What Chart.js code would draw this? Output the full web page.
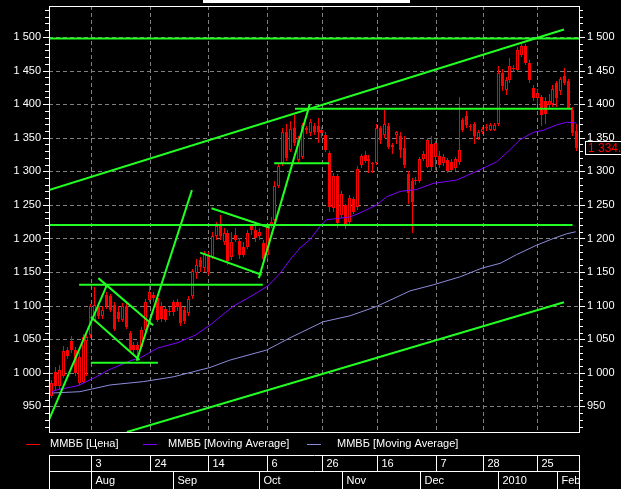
<!DOCTYPE html>
<html>
<head>
<meta charset="utf-8">
<script src="https://cdn.jsdelivr.net/npm/chart.js@4/dist/chart.umd.min.js"></script>
<style>
  html, body { margin: 0; padding: 0; background: #000; }
  canvas { display: block; }
</style>
</head>
<body>
<canvas id="canvas1" width="621" height="489"></canvas>
<script>
// candles, one per trading day (index 0 = 20 Jul 2009)
var opens  = [965,1002,980,995,1034,1047,1034,985,987,1047, 1057,1079,1099,1084,1116,1114,1101,1090,1079,1099, 1059,1042,1042,1039,1064,1109,1116,1111,1100,1095, 1092,1105,1105,1099,1094,1089,1114,1148,1168,1156, 1175,1173,1203,1222,1195,1208,1172,1205,1196,1188, 1188,1218,1213,1204,1194,1175,1220,1228,1278,1312, 1358,1332,1364,1317,1322,1365,1357,1367,1367,1362, 1354,1327,1246,1293,1235,1250,1225,1259,1247,1309, 1324,1318,1313,1313,1364,1354,1367,1339,1354,1353, 1334,1296,1286,1287,1286,1319,1307,1341,1322,1323, 1312,1317,1314,1305,1314,1376,1382,1366,1370,1350, 1358,1364,1362,1362,1371,1447,1421,1436,1452,1451, 1473,1487,1461,1424,1409,1411,1405,1398,1400,1431, 1419,1442,1434,1391,1360];
var highs  = [990,1008,1012,1040,1038,1055,1038,1030,1058,1059, 1102,1128,1104,1100,1120,1118,1106,1100,1104,1104, 1062,1046,1046,1068,1110,1130,1120,1114,1106,1100, 1098,1108,1110,1105,1098,1115,1155,1170,1172,1182, 1180,1210,1225,1235,1215,1212,1210,1215,1200,1195, 1212,1222,1218,1215,1198,1222,1232,1285,1312,1365, 1370,1375,1384,1352,1372,1368,1378,1372,1379,1366, 1358,1330,1298,1296,1270,1252,1264,1262,1308,1326, 1330,1324,1314,1370,1368,1391,1372,1342,1360,1358, 1352,1300,1290,1292,1322,1330,1350,1352,1345,1330, 1325,1320,1318,1322,1411,1380,1390,1370,1374,1362, 1366,1370,1372,1372,1456,1452,1440,1468,1458,1485, 1490,1490,1465,1428,1422,1414,1410,1415,1428,1435, 1440,1453,1438,1395,1370];
var lows   = [962,975,976,992,1020,1030,995,982,985,995, 1052,1075,1080,1080,1095,1090,1062,1075,1075,1065, 1030,1028,1022,1035,1060,1105,1105,1075,1076,1075, 1085,1085,1092,1070,1072,1085,1110,1140,1150,1150, 1145,1170,1198,1198,1190,1160,1168,1195,1170,1172, 1185,1205,1195,1198,1160,1170,1215,1225,1275,1308, 1315,1328,1338,1312,1318,1355,1352,1354,1342,1350, 1329,1240,1240,1216,1230,1214,1220,1236,1243,1305, 1312,1297,1297,1310,1340,1350,1333,1326,1340,1320, 1305,1252,1208,1280,1282,1315,1305,1300,1302,1305, 1308,1298,1300,1300,1310,1358,1365,1360,1340,1346, 1355,1360,1360,1360,1368,1420,1414,1432,1448,1448, 1470,1458,1432,1405,1400,1368,1370,1393,1395,1395, 1414,1428,1392,1352,1330];
var closes = [985,980,1004,1032,1025,1034,1000,1024,1054,1054, 1099,1101,1084,1094,1099,1094,1066,1080,1099,1069, 1034,1034,1034,1064,1106,1121,1111,1079,1080,1078, 1090,1090,1098,1074,1077,1110,1151,1161,1158,1178, 1150,1203,1218,1203,1208,1166,1195,1198,1176,1176, 1208,1213,1200,1210,1170,1218,1225,1278,1308,1358, 1320,1363,1342,1349,1369,1362,1374,1359,1359,1357, 1332,1247,1293,1223,1266,1218,1260,1240,1304,1323, 1316,1316,1311,1365,1347,1371,1336,1336,1358,1331, 1309,1267,1255,1285,1319,1326,1347,1307,1342,1310, 1322,1300,1302,1319,1332,1362,1369,1367,1352,1358, 1363,1366,1369,1369,1446,1427,1436,1457,1453,1481, 1487,1461,1436,1409,1417,1384,1385,1405,1422,1409, 1437,1431,1394,1357,1334];

// moving averages: [candle index, value]
var maFastIdx = [0,1.6,6.7,11,14.4,20.5,22.5,27.1,32.2,36.6,40.4,46.3,50.6,55.1,58.3,60.8,63.4,65.9,68.5,70.2,71.8,76.2,78.7,83,85.5,88.9,93.2,97.4,103.4,108.5,113.6,117,119.6,123,125.5,128.9,131.5,134];
var maFastVal = [972,975,981,993,1004,1019,1022,1037,1045,1056,1071,1099,1113,1129,1148,1168,1186,1198,1218,1228,1229,1232,1238,1250,1262,1270,1273,1282,1287,1300,1314,1332,1347,1358,1361,1369,1373,1372];
var maSlowIdx = [0,7.2,14.9,23.4,31,40.4,45.5,54.9,60.8,69.3,76.2,83,91.5,97.4,104.3,109.9,114.5,118.7,123.8,128.1,131.5,133.8];
var maSlowVal = [970,972,982,987,994,1008,1019,1034,1052,1076,1085,1099,1122,1131,1143,1156,1163,1176,1190,1200,1207,1210];

// hand drawn trend lines: [index1, value1, index2, value2]
var trendLines = [
  [-0.7,1497.5,134.64,1497.5],
  [-0.7,1272,130.8,1511],
  [19.2,912,130.8,1105],
  [-0.7,1220,133,1220],
  [62.1,1393,132.9,1393],
  [56.8,1312,70.8,1312],
  [7,1131,53.9,1131],
  [10,1015,27.1,1015],
  [-0.7,930,14.1,1131],
  [11.9,1141,25.9,1071],
  [10,1083,22.4,1019],
  [21.7,1018,35.8,1272],
  [40.8,1245,55.7,1216],
  [37.9,1179,53.6,1146],
  [52.9,1141,65.9,1400]
];

var dayIdx = [10,25,40,55,69,83,98,110,124];
var dayLabels = ['3','24','14','6','26','16','7','28','25'];
var monthIdx = [10,31,53,74,94,114,129];
var monthLabels = ['Aug','Sep','Oct','Nov','Dec','2010','Feb'];
var yLabelVals = [950,1000,1050,1100,1150,1200,1250,1300,1350,1400,1450,1500];
var legendLabels = ['ММВБ [Цена]','ММВБ [Moving Average]','ММВБ [Moving Average]'];

var RED = '#ff0000', GREEN = '#22ff22', PURPLE = '#8000ff', LAVENDER = '#8c8cdc';
var FONT = '11px "Liberation Sans", Arial, sans-serif';

function fmt(v) {
    v = Math.round(v);
    if (v < 1000) return String(v);
    return Math.floor(v / 1000) + ' ' + String(v % 1000).padStart(3, '0');
}

function pairs(xs, ys) {
    return xs.map(function (x, i) { return { x: x, y: ys[i] }; });
}

var datasets = [];
trendLines.forEach(function (t) {
    datasets.push({
        type: 'line', data: [{ x: t[0], y: t[1] }, { x: t[2], y: t[3] }],
        borderColor: GREEN, borderWidth: 2, pointRadius: 0, order: 0
    });
});
datasets.push({ type: 'line', data: pairs(maFastIdx, maFastVal), borderColor: PURPLE, borderWidth: 1, pointRadius: 0, order: 1 });
datasets.push({ type: 'line', data: pairs(maSlowIdx, maSlowVal), borderColor: LAVENDER, borderWidth: 1, pointRadius: 0, order: 1 });
datasets.push({
    type: 'bar',
    data: opens.map(function (o, i) { return { x: i, y: [o, closes[i]] }; }),
    backgroundColor: opens.map(function (o, i) { return closes[i] < o ? RED : '#000'; }),
    borderColor: RED, borderWidth: 1, borderSkipped: false, inflateAmount: 0,
    barThickness: 3, minBarLength: 1, grouped: false, order: 2
});
datasets.push({
    type: 'bar',
    data: lows.map(function (l, i) { return { x: i, y: [l, highs[i]] }; }),
    backgroundColor: RED, barThickness: 1, inflateAmount: 0, grouped: false, order: 3
});

function yAxis(pos, w) {
    return {
        type: 'linear', position: pos, min: 912, max: 1546,
        afterBuildTicks: function (s) { s.ticks = yLabelVals.map(function (v) { return { value: v }; }); },
        afterFit: function (s) { s.width = w; s.paddingTop = 0; s.paddingBottom = 0; },
        grid: { display: false, drawTicks: false },
        border: { display: false },
        ticks: { color: '#fff', padding: 8, font: { family: '"Liberation Sans", Arial', size: 11 }, callback: fmt }
    };
}

// snap candle elements to whole pixels so they stay sharp
var snapPlugin = {
    id: 'snap',
    beforeDatasetsDraw: function (chart) {
        chart.data.datasets.forEach(function (ds, k) {
            if (ds.type !== 'bar') return;
            chart.getDatasetMeta(k).data.forEach(function (el) {
                el.x = Math.floor(el.x) + 0.5;
                el.y = Math.round(el.y);
                el.base = Math.round(el.base);
                if (Math.abs(el.base - el.y) < 1) el.base = el.y + 1;
            });
        });
    }
};

var framePlugin = {
    id: 'frame',
    beforeDatasetsDraw: function (chart) {
        var ctx = chart.ctx, a = chart.chartArea, xs = chart.scales.x, ys = chart.scales.y;
        ctx.save();
        ctx.strokeStyle = '#808080';
        ctx.lineWidth = 1;
        ctx.setLineDash([4, 3]);
        yLabelVals.forEach(function (v) {
            var y = Math.round(ys.getPixelForValue(v)) + 0.5;
            ctx.beginPath(); ctx.moveTo(a.left, y); ctx.lineTo(a.right, y); ctx.stroke();
        });
        dayIdx.forEach(function (d) {
            var x = Math.round(xs.getPixelForValue(d)) + 0.5;
            ctx.beginPath(); ctx.moveTo(x, a.top); ctx.lineTo(x, a.bottom); ctx.stroke();
        });
        ctx.restore();
    },
    afterDatasetsDraw: function (chart) {
        var ctx = chart.ctx, a = chart.chartArea, ys = chart.scales.y;
        ctx.save();
        ctx.fillStyle = '#fff';
        ctx.fillRect(203, 0, 207, 3);
        ctx.strokeStyle = '#fff';
        ctx.lineWidth = 1;
        ctx.strokeRect(a.left + 0.5, a.top + 0.5, a.right - a.left, a.bottom - a.top);
        for (var v = 920; v <= 1540; v += 10) {
            var y = Math.round(ys.getPixelForValue(v)) + 0.5;
            var len = v % 50 === 0 ? 6 : 4;
            ctx.beginPath();
            ctx.moveTo(a.left - len, y); ctx.lineTo(a.left, y);
            ctx.moveTo(a.right, y); ctx.lineTo(a.right + len, y);
            ctx.stroke();
        }
        // last price box
        var last = closes[closes.length - 1];
        var py = Math.round(ys.getPixelForValue(last));
        ctx.fillStyle = '#000';
        ctx.fillRect(a.right + 6, py - 7, 60, 14);
        ctx.strokeRect(a.right + 6.5, py - 6.5, 60, 13);
        ctx.fillStyle = RED;
        ctx.font = '12px "Liberation Sans", Arial, sans-serif';
        ctx.textBaseline = 'middle';
        ctx.fillText(fmt(last) + '.', a.right + 9, py + 0.5);
        ctx.restore();
    },
    afterDraw: function (chart) {
        var ctx = chart.ctx, a = chart.chartArea, xs = chart.scales.x;
        ctx.save();
        ctx.font = FONT;
        ctx.textBaseline = 'middle';
        // legend
        var ly = 444;
        var items = [[26, 50, RED], [143, 168, PURPLE], [307, 337, LAVENDER]];
        items.forEach(function (it, k) {
            ctx.fillStyle = it[2];
            ctx.fillRect(it[0], ly, 14, 1);
            ctx.fillStyle = '#fff';
            ctx.fillText(legendLabels[k], it[1], ly);
        });
        // date table
        var t0 = 455, t1 = 471, t2 = 489;
        ctx.strokeStyle = '#fff';
        ctx.beginPath();
        ctx.moveTo(a.left, t0 + 0.5); ctx.lineTo(a.right + 1, t0 + 0.5);
        ctx.moveTo(a.left, t1 + 0.5); ctx.lineTo(a.right + 1, t1 + 0.5);
        ctx.moveTo(a.left + 0.5, t0); ctx.lineTo(a.left + 0.5, t2);
        ctx.moveTo(a.right + 0.5, t0); ctx.lineTo(a.right + 0.5, t2);
        ctx.stroke();
        ctx.fillStyle = '#fff';
        dayIdx.forEach(function (d, k) {
            var x = Math.round(xs.getPixelForValue(d)) + 0.5;
            ctx.beginPath(); ctx.moveTo(x, t0); ctx.lineTo(x, t1); ctx.stroke();
            ctx.fillText(dayLabels[k], x + 4, (t0 + t1) / 2 + 1);
        });
        monthIdx.forEach(function (d, k) {
            var x = Math.round(xs.getPixelForValue(d)) + 0.5;
            ctx.beginPath(); ctx.moveTo(x, t1); ctx.lineTo(x, t2); ctx.stroke();
            ctx.fillText(monthLabels[k], x + 4, (t1 + t2) / 2 + 1);
        });
        ctx.restore();
    }
};

new Chart(document.getElementById('canvas1'), {
    type: 'bar',
    data: { datasets: datasets },
    options: {
        responsive: false,
        animation: false,
        devicePixelRatio: 1,
        layout: { padding: { top: 6, bottom: 57, left: 0, right: 0 } },
        plugins: { legend: { display: false }, tooltip: { enabled: false } },
        scales: {
            x: { type: 'linear', min: -0.7, max: 134.64, display: false, offset: false },
            y: yAxis('left', 49),
            yR: yAxis('right', 42)
        }
    },
    plugins: [snapPlugin, framePlugin]
});
</script>
</body>
</html>
